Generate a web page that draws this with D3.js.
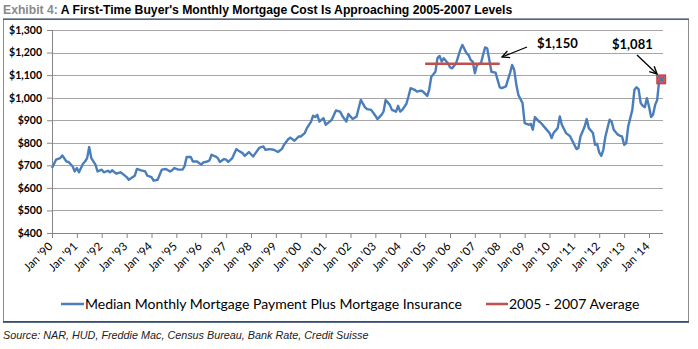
<!DOCTYPE html>
<html>
<head>
<meta charset="utf-8">
<script src="https://cdn.jsdelivr.net/npm/d3@7"></script>
<style>
  body { margin: 0; background: #fff; }
  svg { display: block; }
</style>
</head>
<body>
<svg id="chart" width="698" height="349"></svg>
<script>
// ======================================================================
// DATA
// ======================================================================

var dates = [
  "1990-01","1990-03","1990-05","1990-06","1990-08","1990-09","1990-11","1990-12",
  "1991-01","1991-02","1991-04","1991-05","1991-06","1991-07","1991-08","1991-10","1991-11",
  "1992-01","1992-02","1992-04","1992-05","1992-06","1992-08","1992-10","1992-11",
  "1993-01","1993-02","1993-04","1993-05","1993-06","1993-08","1993-10","1993-11",
  "1994-01","1994-02","1994-04","1994-05","1994-06","1994-08","1994-10","1994-11","1994-12",
  "1995-02","1995-04","1995-05","1995-06","1995-08","1995-09","1995-11",
  "1996-01","1996-02","1996-04","1996-05","1996-06","1996-08","1996-09","1996-10","1996-12",
  "1997-01","1997-02","1997-04","1997-06","1997-07","1997-09","1997-10","1997-12",
  "1998-02","1998-03","1998-05","1998-07","1998-08","1998-10","1998-12",
  "1999-02","1999-04","1999-05","1999-07","1999-08","1999-10","1999-12",
  "2000-01","2000-03","2000-04","2000-06","2000-07","2000-08","2000-09","2000-10","2000-12",
  "2001-01","2001-03","2001-04","2001-06","2001-08","2001-09","2001-11","2001-12",
  "2002-02","2002-04","2002-05","2002-06","2002-08","2002-09","2002-11",
  "2003-01","2003-02","2003-04","2003-05","2003-06","2003-08","2003-09","2003-11","2003-12",
  "2004-01","2004-02","2004-04","2004-05","2004-06","2004-08","2004-09","2004-11","2004-12",
  "2005-02","2005-03","2005-04","2005-06","2005-07","2005-08","2005-09","2005-10","2005-12",
  "2006-01","2006-02","2006-04","2006-05","2006-06","2006-07","2006-09","2006-10","2006-11","2006-12",
  "2007-01","2007-02","2007-04","2007-05","2007-06","2007-07","2007-08","2007-09","2007-11","2007-12",
  "2008-01","2008-02","2008-04","2008-05","2008-06","2008-07","2008-08","2008-09","2008-10","2008-12",
  "2009-01","2009-03","2009-04","2009-05","2009-06","2009-08","2009-09","2009-11",
  "2010-01","2010-02","2010-03","2010-05","2010-06","2010-07","2010-09","2010-10","2010-11",
  "2011-01","2011-02","2011-03","2011-04","2011-06","2011-07","2011-08","2011-10","2011-11","2011-12",
  "2012-01","2012-02","2012-03","2012-04","2012-06","2012-07","2012-08","2012-10","2012-11","2012-12",
  "2013-01","2013-02","2013-03","2013-05","2013-06","2013-07","2013-08","2013-09","2013-10","2013-11","2013-12",
  "2014-01","2014-02","2014-03","2014-04","2014-05","2014-06"
];

var payment = [
  688,725,732,744,717,715,695,673,
  688,669,707,717,732,781,732,703,673,
  681,669,676,669,678,663,669,663,
  648,636,648,654,684,678,673,654,
  648,632,636,658,681,684,673,678,688,
  681,681,695,737,737,717,717,
  703,713,717,722,747,739,732,715,728,
  725,715,732,772,765,754,742,759,
  739,751,777,784,769,772,769,
  759,773,791,816,823,809,828,
  828,843,865,894,920,914,924,894,909,
  880,894,902,943,938,920,894,928,
  905,917,953,990,958,949,946,
  920,905,924,938,990,968,946,938,964,
  938,946,973,1005,1042,1035,1027,1031,1027,
  1008,1035,1093,1115,1175,1185,1160,1175,1153,
  1135,1130,1153,1182,1212,1234,1197,1189,1167,1160,
  1108,1145,1153,1189,1223,1219,1167,1115,1111,1079,
  1046,1042,1050,1080,1110,1145,1123,1057,1012,976,
  887,880,884,858,914,894,887,865,
  843,821,843,865,917,880,843,836,828,
  791,772,777,828,872,905,865,843,791,796,
  757,742,769,828,902,894,858,836,831,828,
  791,799,872,946,1035,1046,1038,976,964,958,998,
  961,914,924,968,990,1081
];

var avgLabel = "$1,150";
var avgValue = 1150;
var avgStart = "2005-01";
var avgEnd = "2008-01";
var lastLabel = "$1,081";

var yTicks = [400, 500, 600, 700, 800, 900, 1000, 1100, 1200, 1300];
var xTickYears = d3.range(1990, 2015);

var seriesNames = ["Median Monthly Mortgage Payment Plus Mortgage Insurance", "2005 - 2007 Average"];

// ======================================================================
// SETUP
// ======================================================================

var parse = d3.timeParse("%Y-%m");
var blue = "#4a7ebb", red = "#c0504d";
var svg = d3.select("#chart");

var plotLeft = 52, plotRight = 663, plotTop = 30, plotBottom = 233;

var x = d3.scaleTime()
    .domain([parse("1990-01"), parse("2014-01")])
    .range([plotLeft, 649]);
var y = d3.scaleLinear().domain([400, 1300]).range([plotBottom, plotTop]);

var points = dates.map(function(d, i) { return {date: parse(d), value: payment[i]}; });

// frame
svg.append("rect").attr("x", 3.5).attr("y", 19.5).attr("width", 685).attr("height", 302)
    .attr("fill", "none").attr("stroke", "#8c8c8c");
svg.append("line").attr("x1", 3).attr("x2", 689).attr("y1", 19).attr("y2", 19)
    .attr("stroke", "#1f3a5f").attr("stroke-width", 1.2);
svg.append("line").attr("x1", 3).attr("x2", 689).attr("y1", 322).attr("y2", 322)
    .attr("stroke", "#1f3a5f").attr("stroke-width", 1.5);

// title
var title = svg.append("text").attr("x", 3).attr("y", 14)
    .attr("font-family", "Liberation Sans, Arial, sans-serif")
    .attr("font-size", 12.2).attr("font-weight", "bold");
title.append("tspan").attr("fill", "#8a8a8a").text("Exhibit 4: ");
title.append("tspan").attr("fill", "#000").text("A First-Time Buyer's Monthly Mortgage Cost Is Approaching 2005-2007 Levels");

// source
svg.append("text").attr("x", 3).attr("y", 339)
    .attr("font-family", "Liberation Sans, Arial, sans-serif")
    .attr("font-size", 10.8).attr("font-style", "italic").attr("fill", "#222")
    .text("Source: NAR, HUD, Freddie Mac, Census Bureau, Bank Rate, Credit Suisse");

// gridlines
svg.append("g").selectAll("line").data(yTicks.slice(1)).enter().append("line")
    .attr("x1", plotLeft).attr("x2", plotRight)
    .attr("y1", function(d) { return Math.round(y(d)) + 0.5; })
    .attr("y2", function(d) { return Math.round(y(d)) + 0.5; })
    .attr("stroke", "#a6a6a6").attr("stroke-width", 1.2);

// y axis
var yAxis = svg.append("g").attr("transform", "translate(" + plotLeft + ",0)")
    .call(d3.axisLeft(y).tickValues(yTicks).tickSize(5).tickPadding(5)
        .tickFormat(function(d) { return "$" + d3.format(",")(d); }));
yAxis.select(".domain").attr("stroke", "#868686");
yAxis.selectAll(".tick line").attr("stroke", "#868686");
yAxis.selectAll("text").attr("font-family", "Lato, sans-serif").attr("font-weight", "bold")
    .attr("font-size", 10.5).attr("fill", "#000");

// x axis
var xAxis = svg.append("g").attr("transform", "translate(0," + plotBottom + ")")
    .call(d3.axisBottom(x).tickValues(xTickYears.map(function(yr) { return new Date(yr, 0, 1); }))
        .tickSize(5).tickSizeOuter(0)
        .tickFormat(function(d) { return "Jan '" + d3.timeFormat("%y")(d); }));
xAxis.select(".domain").attr("d", "M" + plotLeft + ",0.5H" + plotRight).attr("stroke", "#868686");
xAxis.selectAll(".tick line").attr("stroke", "#868686");
xAxis.selectAll("text")
    .attr("font-family", "Lato, sans-serif").attr("font-size", 11.5).attr("fill", "#000")
    .attr("text-anchor", "end").attr("dy", null).attr("y", 0)
    .attr("transform", "translate(1,14) rotate(-45)");

// ======================================================================
// SERIES
// ======================================================================

var line = d3.line()
    .x(function(d) { return x(d.date); })
    .y(function(d) { return y(d.value); });

svg.append("path").datum(points).attr("d", line)
    .attr("fill", "none").attr("stroke", blue).attr("stroke-width", 2.4)
    .attr("stroke-linejoin", "round");

svg.append("line")
    .attr("x1", x(parse(avgStart))).attr("x2", x(parse(avgEnd)))
    .attr("y1", y(avgValue)).attr("y2", y(avgValue))
    .attr("stroke", red).attr("stroke-width", 2.5);

// end marker
var last = points[points.length - 1];
var mx = x(last.date) + 2, my = y(last.value);
svg.append("rect").attr("x", mx - 4.5).attr("y", my - 4.5).attr("width", 9).attr("height", 9)
    .attr("fill", "#d9534f").attr("stroke", "#b03030").attr("stroke-width", 0.8);
svg.append("path").attr("d", "M" + (mx - 3) + "," + (my - 3) + "L" + (mx + 3) + "," + (my + 3) +
        "M" + (mx + 3) + "," + (my - 3) + "L" + (mx - 3) + "," + (my + 3))
    .attr("stroke", "#4a6fc0").attr("stroke-width", 1.2);

// ======================================================================
// ANNOTATIONS
// ======================================================================

svg.append("defs").append("marker").attr("id", "arrow")
    .attr("viewBox", "0 0 10 10").attr("refX", 9).attr("refY", 5)
    .attr("markerWidth", 7).attr("markerHeight", 7).attr("orient", "auto")
    .append("path").attr("d", "M1,1L9,5L1,9").attr("fill", "none")
    .attr("stroke", "#000").attr("stroke-width", 1.5);

function annotate(label, tx, ty, ax1, ay1, ax2, ay2) {
    svg.append("text").attr("x", tx).attr("y", ty)
        .attr("font-family", "Lato, sans-serif").attr("font-weight", "bold")
        .attr("font-size", 13).attr("fill", "#000").text(label);
    svg.append("line").attr("x1", ax1).attr("y1", ay1).attr("x2", ax2).attr("y2", ay2)
        .attr("stroke", "#000").attr("stroke-width", 1.3).attr("marker-end", "url(#arrow)");
}
annotate(avgLabel, 537, 48, 527, 47, 502, 57);
annotate(lastLabel, 612, 49, 637, 55, 657, 74);

// ======================================================================
// LEGEND
// ======================================================================

var legend = svg.append("g").attr("font-family", "Lato, sans-serif").attr("font-size", 14);
legend.append("line").attr("x1", 61).attr("x2", 84).attr("y1", 304).attr("y2", 304)
    .attr("stroke", blue).attr("stroke-width", 2.5);
legend.append("text").attr("x", 85).attr("y", 309).text(seriesNames[0]);
legend.append("line").attr("x1", 486).attr("x2", 508).attr("y1", 304).attr("y2", 304)
    .attr("stroke", red).attr("stroke-width", 2.5);
legend.append("text").attr("x", 509).attr("y", 309).text(seriesNames[1]);
</script>
</body>
</html>
